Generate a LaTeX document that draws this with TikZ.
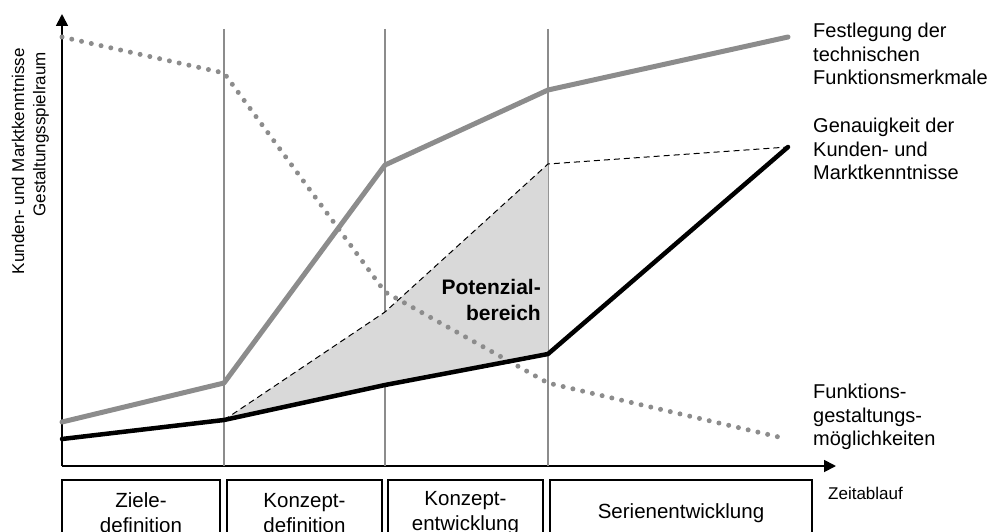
\documentclass[tikz,border=0pt]{standalone}
\usepackage{fontspec}
\setmainfont{Liberation Sans}
\usetikzlibrary{arrows.meta}

\definecolor{curvegray}{HTML}{8C8C8C}
\definecolor{areagray}{HTML}{D9D9D9}

\begin{document}
\begin{tikzpicture}[x=1pt,y=-1pt]
      \tikzset{phasebox/.style={draw, line width=1.2pt, minimum height=66pt, inner sep=0pt, align=center, font=\fontsize{20.5}{25}\selectfont},
               curvelabel/.style={anchor=west, inner sep=0pt, align=left, font=\fontsize{20}{23.5}\selectfont},
               axis/.style={line width=1.8pt, -{Triangle[length=12pt,width=12pt]}},
               milestone/.style={draw=curvegray, line width=1.4pt}}
      \clip (0,0) rectangle (991,532);
%% Axes
      	\coordinate (origin) at (62,466);
      	\coordinate (ytop) at (62,14);
      	\coordinate (xend) at (836,466);
      	\draw[axis] (origin) -- (ytop);
      	\draw[axis] (origin) -- (xend);
%% Phase borders
      	\coordinate (m1top) at (224,29);  \coordinate (m1bot) at (224,466);
      	\coordinate (m2top) at (385,29);  \coordinate (m2bot) at (385,466);
      	\coordinate (m3top) at (548,29);  \coordinate (m3bot) at (548,466);
		\draw[milestone] (m1top) -- (m1bot);
		\draw[milestone] (m2top) -- (m2bot);
		\draw[milestone] (m3top) -- (m3bot);
%% Curve points
      	\coordinate (f0) at (62,422);  \coordinate (f1) at (224,383);  \coordinate (f2) at (385,165);
      	\coordinate (f3) at (548,90);  \coordinate (f4) at (788,37);
      	\coordinate (g0) at (62,439);  \coordinate (g1) at (224,420);  \coordinate (g2) at (385,385);
      	\coordinate (g3) at (548,354); \coordinate (g4) at (788,147);
      	\coordinate (p2) at (385,312); \coordinate (p3) at (548,164);
      	\coordinate (s0) at (62,37);   \coordinate (s1) at (224,73);   \coordinate (s2) at (385,292);
      	\coordinate (s3) at (548,383); \coordinate (s4) at (783,438);
%% Potential area
		\fill[areagray] (g1) -- (p2) -- (p3) -- (g3) -- (g2) -- cycle;
		\draw[dashed, line width=1pt, dash pattern=on 6pt off 4pt] (g1) -- (p2) -- (p3) -- (g4);
%Curves
		\draw[curvegray, line cap=round, dash pattern=on 0pt off 10pt, line width=5pt] (s0) -- (s1) -- (s2) -- (s3) -- (s4);
		\draw[curvegray, line width=5pt, line cap=round, line join=round] (f0) -- (f1) -- (f2) -- (f3) -- (f4);
		\draw[black, line width=4.5pt, line cap=round, line join=round] (g0) -- (g1) -- (g2) -- (g3) -- (g4);
%% Labels
      	\node[curvelabel] (festlegung) at (813,54) {Festlegung der\\technischen\\Funktionsmerkmale};
      	\node[curvelabel] (genauigkeit) at (813,149) {Genauigkeit der\\Kunden- und\\Marktkenntnisse};
      	\node[curvelabel] (funktionen) at (813,417) {Funktions-\\gestaltungs-\\möglichkeiten};
      	\node[anchor=west, inner sep=0pt, font=\fontsize{17}{18}\selectfont] (zeit) at (828,493) {Zeitablauf};
      	\node[anchor=east, inner sep=0pt, align=right, font=\fontsize{21}{26}\bfseries\selectfont] (potenzial) at (541,300) {Potenzial-\\bereich};
      	\node[rotate=90, anchor=east, inner sep=0pt, font=\fontsize{17}{20}\selectfont] (ylabela) at (18,48) {Kunden- und Marktkenntnisse};
      	\node[rotate=90, anchor=east, inner sep=0pt, font=\fontsize{17}{20}\selectfont] (ylabelb) at (41,52) {Gestaltungsspielraum};
%% Phases
      	\node[phasebox, minimum width=158pt] (ziele) at (141,513) {Ziele-\\definition};
      	\node[phasebox, minimum width=155pt] (kdef) at (304.5,513) {Konzept-\\definition};
      	\node[phasebox, minimum width=155pt] (kentw) at (465.5,513) {Konzept-\\entwicklung};
      	\node[phasebox, minimum width=262pt] (serie) at (681,513) {Serienentwicklung};
	\end{tikzpicture}
\end{document}
